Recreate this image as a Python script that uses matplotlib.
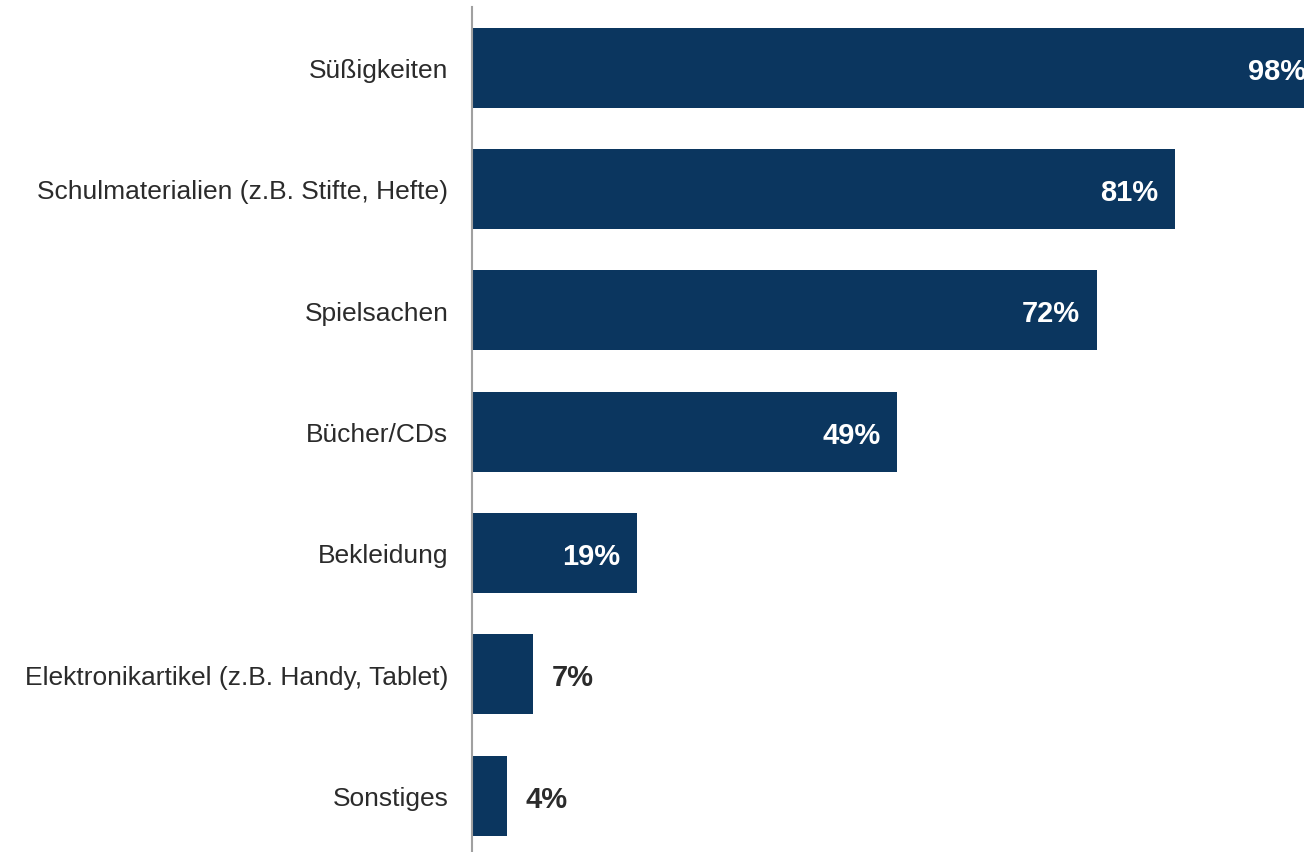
import matplotlib
matplotlib.use("Agg")
import matplotlib.pyplot as plt

plt.rcParams['font.family'] = ['Liberation Sans', 'DejaVu Sans']

categories = ["Süßigkeiten", "Schulmaterialien (z.B. Stifte, Hefte)", "Spielsachen",
              "Bücher/CDs", "Bekleidung", "Elektronikartikel (z.B. Handy, Tablet)", "Sonstiges"]
values = [98, 81, 72, 49, 19, 7, 4]
labels = ["98%", "81%", "72%", "49%", "19%", "7%", "4%"]

bar_color = "#0b365f"
text_color = "#2b2b2b"

fig = plt.figure(figsize=(13.04, 8.53), dpi=100)
ax = fig.add_axes([0.362, -0.005, 0.638, 0.9956])

ypos = list(range(len(categories)))
ax.barh(ypos, values, height=0.66, color=bar_color)
ax.set_ylim(len(categories) - 0.5, -0.5)
ax.set_xlim(0, 95.85)

# inside labels for the long bars, outside for the short ones
for y, v, lab in zip(ypos, values, labels):
    if v >= 15:
        ax.text(v - 1.95, y + 0.025, lab, ha="right", va="center", color="white",
                fontsize=21, fontweight="bold")
    else:
        ax.text(v + 2.2, y + 0.025, lab, ha="left", va="center", color=text_color,
                fontsize=21, fontweight="bold")

ax.set_yticks(ypos)
ax.set_yticklabels(categories, fontsize=19, color=text_color)
ax.tick_params(axis="y", length=0, pad=17)
ax.set_xticks([])

for side in ["top", "right", "bottom"]:
    ax.spines[side].set_visible(False)
ax.spines["left"].set_color("#a0a0a0")
ax.spines["left"].set_linewidth(1.5)

fig.savefig("out.png", dpi=100)
